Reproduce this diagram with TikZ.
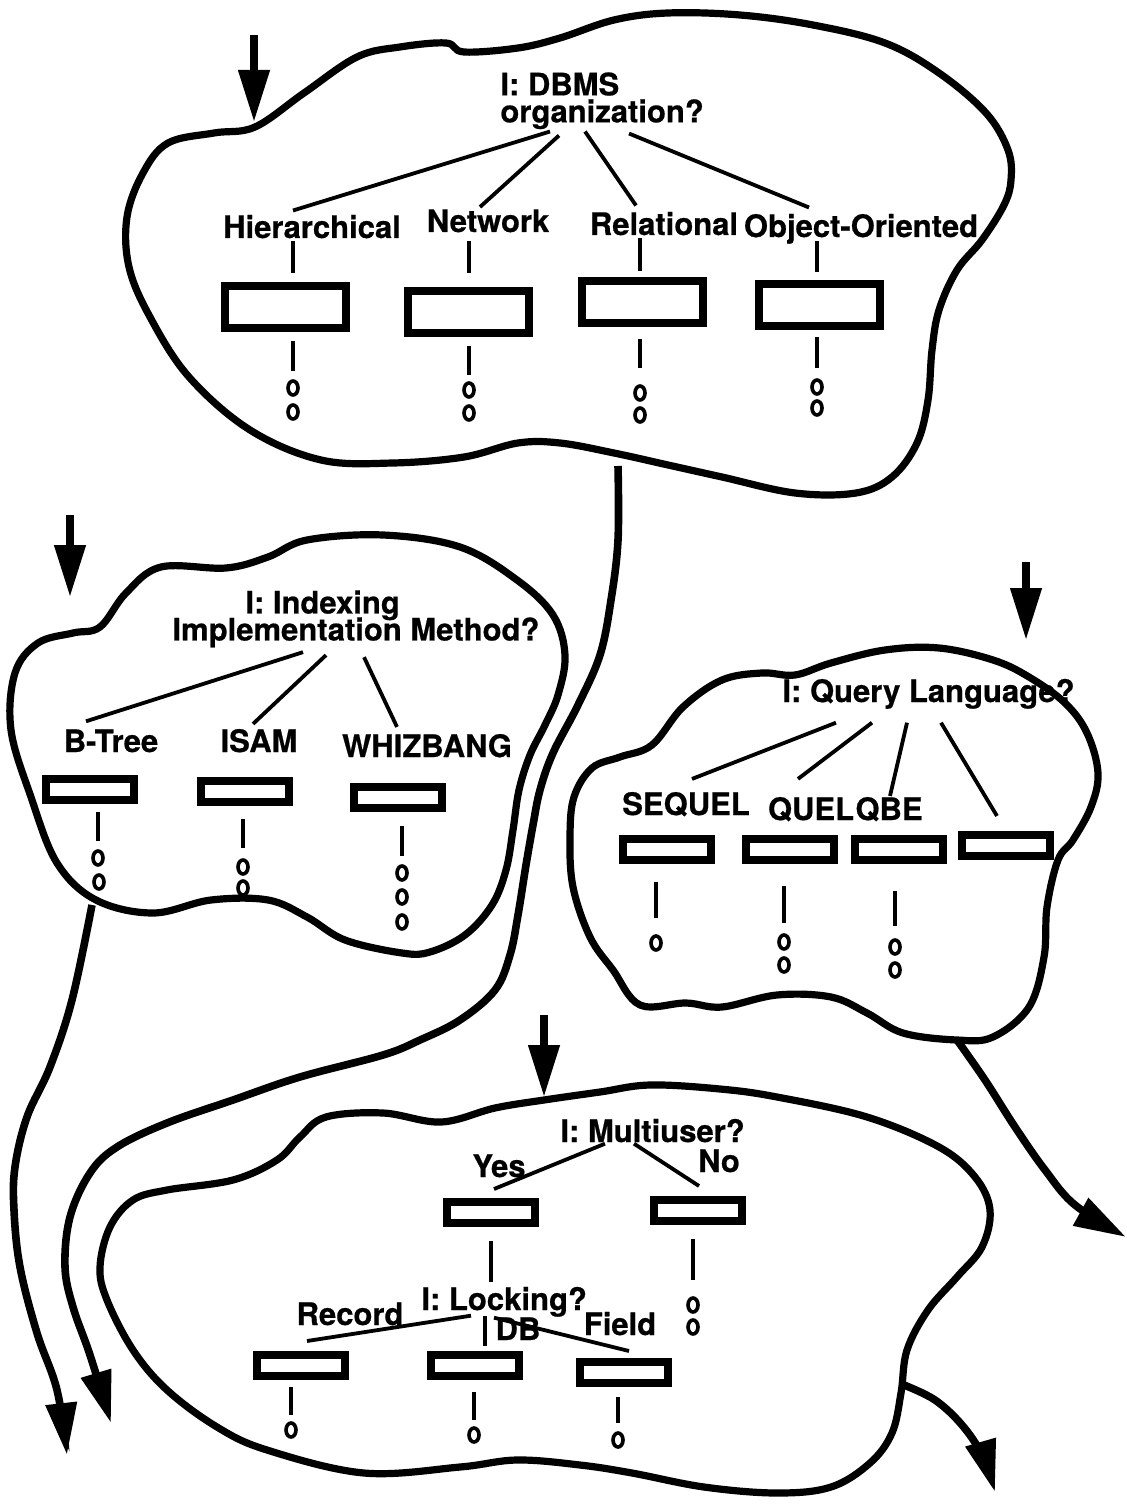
\documentclass[tikz,border=0pt]{standalone}
\usepackage{fontspec}
\setmainfont{TeX Gyre Heros}[BoldFeatures={FakeBold=0.6}]
\usetikzlibrary{arrows.meta,shapes.geometric}
\setlength{\lineskiplimit}{-30pt}

\begin{document}
\begin{tikzpicture}[x=0.5pt, y=-0.5pt,
  blob/.style={line width=3.6pt, line join=round},
  flow/.style={line width=3.8pt, -{Triangle[length=26pt,width=15pt]}},
  lab/.style={inner sep=0pt, font=\fontsize{15.5}{13.5}\selectfont\bfseries},
  bigbox/.style={draw, line width=4pt, minimum width=60.5pt, minimum height=20.75pt, inner sep=0pt},
  smallbox/.style={draw, line width=4pt, minimum width=44pt, minimum height=10.5pt, inner sep=0pt},
  dot/.style={ellipse, draw, line width=1.8pt, minimum width=5pt, minimum height=7pt, inner sep=0pt},
  stem/.style={line width=1.9pt}]
\useasboundingbox (0, 0) rectangle (1127, 1507);

\draw [blob] plot [smooth cycle, tension=0.6] coordinates {(255, 127) (304, 93) (357, 57) (400, 47) (446, 43) (464, 52) (518, 48) (560, 38) (614, 20) (668, 13) (740, 15) (813, 25) (885, 43) (939, 73) (986, 113) (1008, 150) (1011, 180) (1004, 205) (982, 240) (957, 270) (939, 310) (932, 350) (928, 400) (917, 443) (892, 477) (856, 493) (795, 493) (722, 477) (668, 465) (614, 453) (560, 443) (518, 443) (464, 457) (393, 463) (321, 460) (250, 430) (189, 377) (150, 317) (129, 267) (127, 217) (143, 173) (168, 143) (214, 133)};
\coordinate (in1) at (254, 35);
\coordinate (tip1) at (254, 122);
\draw [flow] (in1) -- (tip1);

\node [lab, anchor=north west, align=left] (dbms) at (500, 72) {I: DBMS\\organization?};
\node [lab, anchor=base] (hier) at (312, 238) {Hierarchical};
\node [lab, anchor=base] (net) at (488, 232) {Network};
\node [lab, anchor=base] (rel) at (664, 235) {Relational};
\node [lab, anchor=base] (oo) at (861, 237) {Object-Oriented};
\node [bigbox] (hbox) at (285, 307) {};
\node [bigbox] (nbox) at (468, 312) {};
\node [bigbox] (rbox) at (642, 302) {};
\node [bigbox] (obox) at (819, 305) {};
\node [dot] (hd1) at (293, 388) {};
\node [dot] (hd2) at (293, 412) {};
\node [dot] (nd1) at (469, 390) {};
\node [dot] (nd2) at (469, 413) {};
\node [dot] (rd1) at (640, 393) {};
\node [dot] (rd2) at (640, 415) {};
\node [dot] (od1) at (817, 387) {};
\node [dot] (od2) at (817, 408) {};
\draw [stem] ([xshift=25pt, yshift=-1pt]dbms.south west) -- ([xshift=-9.5pt, yshift=2pt]hier.north);
\draw [stem] ([xshift=29.5pt, yshift=-3pt]dbms.south west) -- ([xshift=-4pt, yshift=1pt]net.north);
\draw [stem] ([xshift=42.5pt, yshift=-1pt]dbms.south west) -- ([xshift=-14pt, yshift=3pt]rel.north);
\draw [stem] ([xshift=64.5pt, yshift=-2pt]dbms.south west) -- ([xshift=-26pt, yshift=3pt]oo.north);
\draw [stem, shorten <=1pt, shorten >=4.6pt] (hier.south -| hd1) -- (hbox.north -| hd1);
\draw [stem, shorten <=4pt, shorten >=7.1pt] (net.south -| nd1) -- (nbox.north -| nd1);
\draw [stem, shorten <=1pt, shorten >=3.1pt] (rel.south -| rd1) -- (rbox.north -| rd1);
\draw [stem, shorten <=-1.75pt, shorten >=4.1pt] (oo.south -| od1) -- (obox.north -| od1);
\draw [stem, shorten <=4.6pt, shorten >=4pt] (hbox.south -| hd1) -- (hd1.north);
\draw [stem, shorten <=4.6pt, shorten >=3pt] (nbox.south -| nd1) -- (nd1.north);
\draw [stem, shorten <=6.1pt, shorten >=8pt] (rbox.south -| rd1) -- (rd1.north);
\draw [stem, shorten <=3.6pt, shorten >=5pt] (obox.south -| od1) -- (od1.north);

\draw [blob] plot [smooth cycle, tension=0.6] coordinates {(73, 633) (100, 627) (126, 593) (161, 567) (226, 568) (268, 557) (307, 540) (383, 535) (460, 547) (517, 580) (553, 615) (565, 655) (558, 695) (545, 725) (530, 755) (519, 790) (513, 830) (506, 870) (492, 905) (465, 935) (430, 952) (402, 953) (345, 940) (307, 917) (268, 900) (211, 900) (153, 913) (96, 900) (57, 863) (31, 797) (11, 730) (15, 673) (38, 643)};
\coordinate (in2) at (70, 515);
\coordinate (tip2) at (70, 597);
\draw [flow] (in2) -- (tip2);

\node [lab, anchor=north west, align=left] (idx) at (172, 590) {\hspace*{36.5pt}I: Indexing\\Implementation Method?};
\node [lab, anchor=base] (btree) at (111, 752) {B-Tree};
\node [lab, anchor=base] (isam) at (259, 752) {ISAM};
\node [lab, anchor=base] (whiz) at (427, 757) {WHIZBANG};
\node [smallbox] (bbox) at (90, 789) {};
\node [smallbox] (ibox) at (245, 791) {};
\node [smallbox] (wbox) at (398, 797) {};
\node [dot] (bd1) at (98, 858) {};
\node [dot] (bd2) at (99, 882) {};
\node [dot] (id1) at (243, 867) {};
\node [dot] (id2) at (243, 888) {};
\node [dot] (wd1) at (402, 873) {};
\node [dot] (wd2) at (402, 897) {};
\node [dot] (wd3) at (402, 922) {};
\draw [stem] ([xshift=65.5pt, yshift=-2.25pt]idx.south west) -- ([xshift=-12.5pt, yshift=3.85pt]btree.north);
\draw [stem] ([xshift=77pt, yshift=-3.75pt]idx.south west) -- ([xshift=-3pt, yshift=2.35pt]isam.north);
\draw [stem] ([xshift=96pt, yshift=-4.75pt]idx.south west) -- ([xshift=-15pt, yshift=3.35pt]whiz.north);
\draw [stem, shorten <=4.25pt, shorten >=4pt] (bbox.south -| bd1) -- (bd1.north);
\draw [stem, shorten <=6.75pt, shorten >=5pt] (ibox.south -| id1) -- (id1.north);
\draw [stem, shorten <=7.25pt, shorten >=4pt] (wbox.south -| wd1) -- (wd1.north);

\draw [blob] plot [smooth cycle, tension=0.6] coordinates {(570, 837) (574, 797) (592, 768) (620, 757) (652, 745) (683, 707) (722, 680) (762, 673) (795, 675) (831, 663) (885, 650) (939, 648) (993, 660) (1029, 677) (1065, 703) (1087, 733) (1098, 773) (1091, 807) (1073, 840) (1058, 860) (1047, 907) (1044, 957) (1029, 1007) (993, 1037) (957, 1040) (903, 1033) (867, 1013) (831, 997) (777, 995) (722, 1007) (686, 1003) (640, 1005) (613, 970) (590, 937) (573, 887)};
\coordinate (in3) at (1026, 562);
\coordinate (tip3) at (1026, 640);
\draw [flow] (in3) -- (tip3);

\node [lab, anchor=base west] (query) at (782, 702) {I: Query Language?};
\node [lab, anchor=base] (seq) at (686, 815) {SEQUEL};
\node [lab, anchor=base] (quel) at (811, 820) {QUEL};
\node [lab, anchor=base] (qbe) at (889, 820) {QBE};
\node [smallbox] (sbox) at (667, 849) {};
\node [smallbox] (qbox) at (790, 849) {};
\node [smallbox] (qbebox) at (899, 849) {};
\node [smallbox] (xbox) at (1006, 845) {};
\node [dot] (sd1) at (656, 943) {};
\node [dot] (qd1) at (784, 942) {};
\node [dot] (qd2) at (784, 965) {};
\node [dot] (ed1) at (895, 947) {};
\node [dot] (ed2) at (895, 970) {};
\draw [stem] ([xshift=27pt, yshift=-6.75pt]query.south west) -- ([xshift=3pt, yshift=6.35pt]seq.north);
\draw [stem] ([xshift=45pt, yshift=-6.75pt]query.south west) -- ([xshift=-6.5pt, yshift=8.85pt]quel.north);
\draw [stem] ([xshift=62.5pt, yshift=-6.75pt]query.south west) -- ([xshift=0.5pt, yshift=0.35pt]qbe.north);
\draw [stem] ([xshift=79.5pt, yshift=-6.75pt]query.south west) -- ([xshift=-4.5pt, yshift=7.25pt]xbox.north);
\draw [stem, shorten <=9.25pt, shorten >=8pt] (sbox.south -| sd1) -- (sd1.north);
\draw [stem, shorten <=11.25pt, shorten >=5pt] (qbox.south -| qd1) -- (qd1.north);
\draw [stem, shorten <=13.75pt, shorten >=6pt] (qbebox.south -| ed1) -- (ed1.north);

\draw [blob] plot [smooth cycle, tension=0.6] coordinates {(544, 1100) (600, 1092) (650, 1085) (720, 1089) (777, 1097) (867, 1117) (939, 1147) (975, 1177) (990, 1210) (982, 1247) (957, 1277) (928, 1310) (907, 1350) (901, 1393) (892, 1433) (870, 1463) (831, 1487) (777, 1493) (704, 1487) (632, 1473) (580, 1465) (517, 1460) (460, 1467) (364, 1473) (267, 1450) (217, 1427) (167, 1390) (133, 1350) (107, 1300) (100, 1267) (110, 1227) (133, 1200) (167, 1190) (233, 1180) (277, 1160) (300, 1137) (326, 1117) (383, 1113) (441, 1122) (495, 1108)};
\coordinate (in4) at (544, 1015);
\coordinate (tip4) at (544, 1097);
\draw [flow] (in4) -- (tip4);

\node [lab, anchor=base west] (multi) at (560, 1142) {I: Multiuser?};
\node [lab, anchor=base] (yes) at (499, 1177) {Yes};
\node [lab, anchor=base] (no) at (719, 1172) {No};
\node [smallbox] (ybox) at (491, 1212) {};
\node [smallbox] (nobox) at (698, 1210) {};
\node [dot] (nod1) at (693, 1305) {};
\node [dot] (nod2) at (693, 1327) {};
\draw [stem] ([xshift=22.5pt, yshift=-0.5pt]multi.south west) -- ([xshift=1.5pt, yshift=4.25pt]ybox.north);
\draw [stem] ([xshift=37pt, yshift=-0.5pt]multi.south west) -- ([xshift=0.5pt, yshift=4.75pt]nobox.north);
\draw [stem, shorten <=7.25pt, shorten >=8pt] (nobox.south -| nod1) -- (nod1.north);

\node [lab, anchor=base west] (lock) at (421, 1310) {I: Locking?};
\draw [stem, shorten <=7.25pt, shorten >=2.35pt] (ybox.south) -- (ybox.south |- lock.north);
\node [lab, anchor=base] (rec) at (350, 1325) {Record};
\node [lab, anchor=base] (db) at (518, 1340) {DB};
\node [lab, anchor=base] (field) at (620, 1335) {Field};
\node [smallbox] (recbox) at (301, 1365) {};
\node [smallbox] (dbbox) at (475, 1365) {};
\node [smallbox] (fbox) at (624, 1372) {};
\node [dot] (rcd) at (291, 1430) {};
\node [dot] (dbd) at (474, 1435) {};
\node [dot] (fd) at (618, 1440) {};
\draw [stem] ([xshift=25pt, yshift=0.75pt]lock.south west) -- ([xshift=3pt, yshift=4.75pt]recbox.north);
\draw [stem] ([xshift=32pt, yshift=0.75pt]lock.south west) -- ([xshift=5pt, yshift=2.25pt]dbbox.north);
\draw [stem] ([xshift=36.5pt, yshift=-0.25pt]lock.south west) -- ([xshift=2.5pt, yshift=3.25pt]fbox.north);
\draw [stem, shorten <=3.75pt, shorten >=3pt] (recbox.south -| rcd) -- (rcd.north);
\draw [stem, shorten <=6.25pt, shorten >=3pt] (dbbox.south -| dbd) -- (dbd.north);
\draw [stem, shorten <=5.25pt, shorten >=4pt] (fbox.south -| fd) -- (fd.north);

\coordinate (dbms-out) at (618, 466);
\coordinate (idx-out) at (92, 905);
\coordinate (query-out) at (957, 1040);
\coordinate (multi-out) at (904, 1385);
\draw [flow] plot [smooth, tension=0.6] coordinates {(dbms-out) (618, 540) (611, 600) (600, 655) (578, 705) (553, 753) (540, 790) (533, 825) (526, 865) (518, 915) (510, 955) (495, 990) (460, 1020) (420, 1040) (383, 1055) (300, 1077) (233, 1100) (167, 1123) (117, 1147) (90, 1173) (70, 1217) (65, 1267) (73, 1307) (90, 1355) (111, 1423)};
\draw [flow] plot [smooth, tension=0.6] coordinates {(idx-out) (72, 1000) (50, 1067) (27, 1117) (15, 1167) (14, 1210) (20, 1267) (37, 1333) (57, 1390) (67, 1455)};
\draw [flow] plot [smooth, tension=0.6] coordinates {(query-out) (985, 1080) (1015, 1127) (1045, 1170) (1075, 1205) (1126, 1237)};
\draw [flow] plot [smooth, tension=0.6] coordinates {(multi-out) (935, 1400) (962, 1425) (982, 1455) (995, 1492)};
\end{tikzpicture}
\end{document}
